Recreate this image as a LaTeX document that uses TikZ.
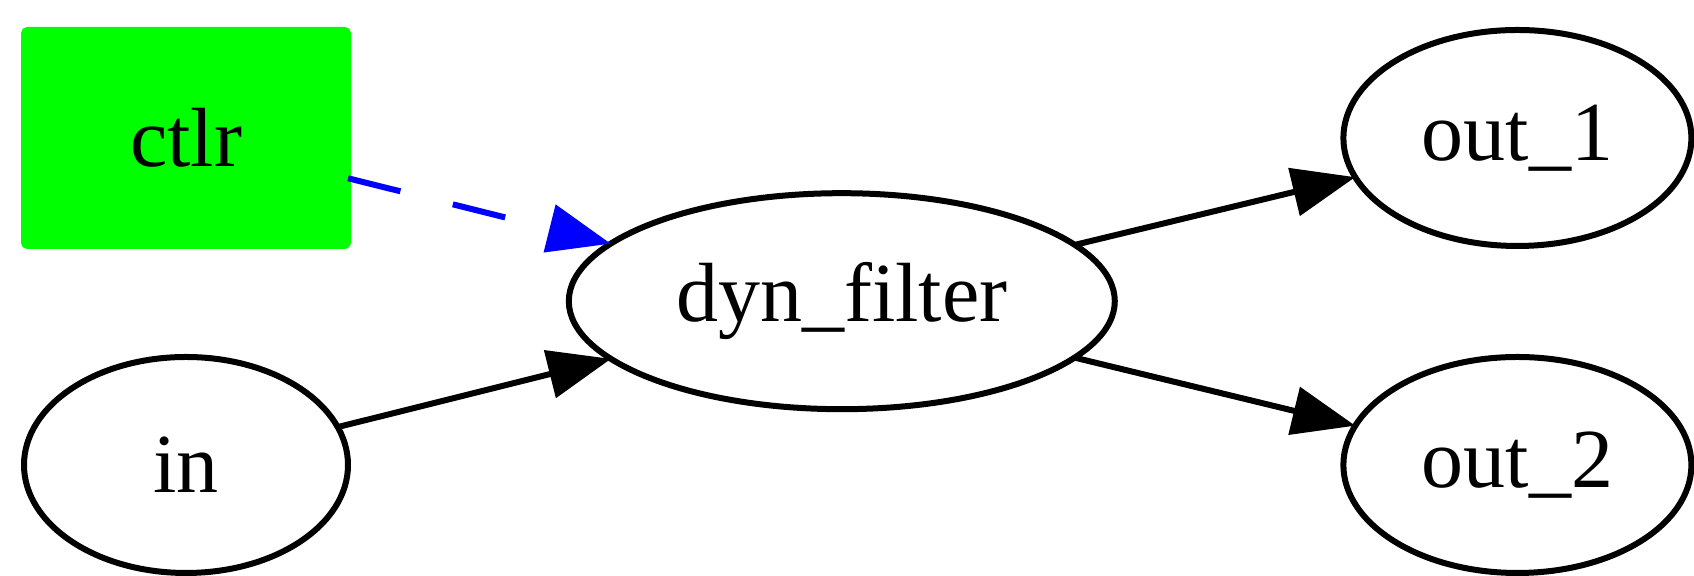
\documentclass[tikz,border=0pt]{standalone}
\usepackage{fontspec}
\setmainfont{Liberation Serif}
\usetikzlibrary{arrows.meta,shapes.geometric}

\definecolor{nodegreen}{RGB}{0,255,0}
\definecolor{edgeblue}{RGB}{0,0,255}

\tikzset{
  graphnode/.style={line width=1pt, inner sep=0pt, outer sep=0pt,
    font=\fontsize{14}{16.8}\selectfont},
  oval/.style={graphnode, draw=black, ellipse, minimum height=36pt},
  ctlbox/.style={graphnode, draw=nodegreen, fill=nodegreen, rectangle,
    rounded corners=0.6pt, minimum width=54pt, minimum height=36pt},
  headtip/.style={-{Triangle[length=10.5pt,width=8pt]}},
  flow/.style={line width=1pt, draw=black, headtip},
  ctlflow/.style={line width=1pt, draw=edgeblue,
    dash pattern=on 9pt off 9pt, headtip}
}

\begin{document}
\begin{tikzpicture}[x=1pt,y=1pt]
  \useasboundingbox (0,0) rectangle (282.33,96);

  % nodes
  \node[ctlbox] (ctlr) at (31,73) {ctlr};
  \node[oval, minimum width=54pt] (in) at (31,18.5) {in};
  \node[oval, minimum width=91pt] (dyn) at (140.3,45.8) {dyn\_filter};
  \node[oval, minimum width=58pt] (out1) at (252.9,73) {out\_1};
  \node[oval, minimum width=58pt] (out2) at (252.9,18.5) {out\_2};

  % edges
  \draw[ctlflow] (ctlr) -- (dyn);
  \draw[flow] (in) -- (dyn);
  \draw[flow] (dyn) -- (out1);
  \draw[flow] (dyn) -- (out2);
\end{tikzpicture}
\end{document}
